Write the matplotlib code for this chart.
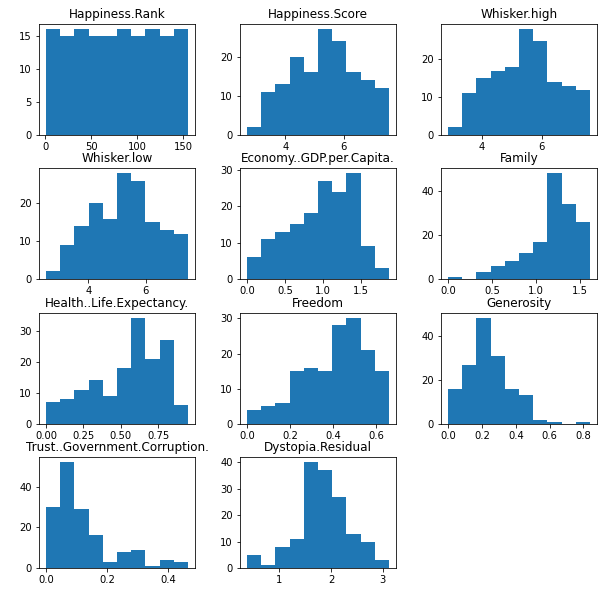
import numpy as np
import matplotlib
matplotlib.use("Agg")
import matplotlib.pyplot as plt

titles = ["Happiness.Rank", "Happiness.Score", "Whisker.high", "Whisker.low",
          "Economy..GDP.per.Capita.", "Family", "Health..Life.Expectancy.",
          "Freedom", "Generosity", "Trust..Government.Corruption.", "Dystopia.Residual"]

# data range (min, max) of each column
rank_range = (1, 155)
score_range = (2.693, 7.537)
whigh_range = (2.865, 7.622)
wlow_range = (2.521, 7.480)
econ_range = (0.0, 1.871)
family_range = (0.0, 1.611)
health_range = (0.0, 0.950)
freedom_range = (0.0, 0.658)
generosity_range = (0.0, 0.838)
trust_range = (0.0, 0.464)
dystopia_range = (0.377, 3.117)

# counts in 10 equal-width bins
rank_counts = [16, 15, 16, 15, 15, 16, 15, 16, 15, 16]
score_counts = [2, 11, 13, 20, 16, 27, 24, 16, 14, 12]
whigh_counts = [2, 11, 15, 17, 18, 28, 25, 14, 13, 12]
wlow_counts = [2, 9, 14, 20, 16, 28, 26, 15, 13, 12]
econ_counts = [6, 11, 13, 15, 18, 27, 24, 29, 9, 3]
family_counts = [1, 0, 3, 6, 8, 12, 17, 48, 34, 26]
health_counts = [7, 8, 11, 14, 9, 18, 34, 21, 27, 6]
freedom_counts = [4, 5, 6, 15, 16, 15, 28, 30, 21, 15]
generosity_counts = [16, 27, 48, 31, 16, 13, 2, 1, 0, 1]
trust_counts = [30, 52, 29, 16, 3, 8, 9, 1, 4, 3]
dystopia_counts = [5, 1, 8, 11, 40, 37, 27, 13, 10, 3]

ranges = [rank_range, score_range, whigh_range, wlow_range, econ_range, family_range,
          health_range, freedom_range, generosity_range, trust_range, dystopia_range]
counts = [rank_counts, score_counts, whigh_counts, wlow_counts, econ_counts, family_counts,
          health_counts, freedom_counts, generosity_counts, trust_counts, dystopia_counts]

W, H = 611, 592
fig = plt.figure(figsize=(W / 72, H / 72), dpi=72)

lefts = [39, 240, 441]
tops = [24, 168, 313, 457]
aw, ah = 156, 111

for i, (t, r, c) in enumerate(zip(titles, ranges, counts)):
    row, col = divmod(i, 3)
    x0 = lefts[col]
    y0 = tops[row]
    ax = fig.add_axes([x0 / W, 1 - (y0 + ah) / H, aw / W, ah / H])
    edges = np.linspace(r[0], r[1], len(c) + 1)
    centers = (edges[:-1] + edges[1:]) / 2
    ax.hist(centers, bins=edges, weights=c, color="#1f77b4")
    ax.set_title(t)

fig.savefig("out.png", dpi=72)
